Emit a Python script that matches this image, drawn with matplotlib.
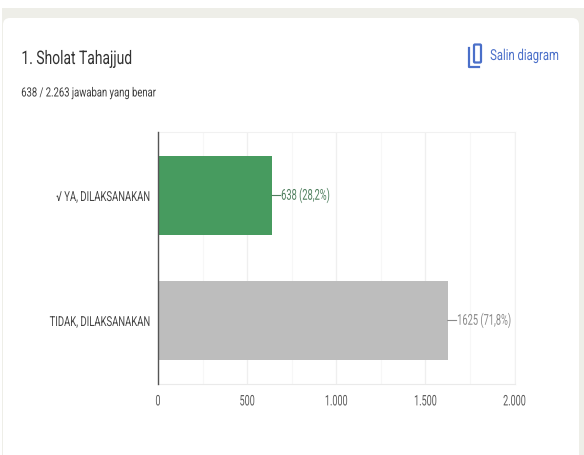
import matplotlib
matplotlib.use("Agg")
import matplotlib.pyplot as plt
from matplotlib.patches import FancyBboxPatch, Rectangle
from matplotlib.patheffects import AbstractPathEffect
from matplotlib.ticker import FuncFormatter, MultipleLocator
from matplotlib.transforms import Affine2D

categories = ["√ YA, DILAKSANAKAN", "TIDAK, DILAKSANAKAN"]
values = [638, 1625]
value_labels = ["638 (28,2%)", "1625 (71,8%)"]
bar_colors = ["#479B5F", "#BDBDBD"]
label_colors = ["#4F7F5E", "#8A8A8A"]
title = "1. Sholat Tahajjud"
subtitle = "638 / 2.263 jawaban yang benar"
copy_text = "Salin diagram"

plt.rcParams["font.family"] = ["Roboto", "DejaVu Sans"]


class Condense(AbstractPathEffect):
    """Draw real text narrower, holding its left, centre or right edge in place."""

    def __init__(self, sx, anchor="left"):
        super().__init__()
        self.sx = sx
        self.anchor = anchor

    def draw_path(self, renderer, gc, tpath, affine, rgbFace=None):
        ext = tpath.get_extents(affine)
        pivot = {"left": ext.x0, "center": (ext.x0 + ext.x1) / 2, "right": ext.x1}[self.anchor]
        squeeze = Affine2D().translate(-pivot, 0).scale(self.sx, 1).translate(pivot, 0)
        renderer.draw_path(gc, tpath, affine + squeeze, rgbFace)


def condense(text, sx, anchor="left"):
    text.set_path_effects([Condense(sx, anchor)])
    return text


W, H = 584, 455
fig = plt.figure(figsize=(W / 100, H / 100), dpi=100, facecolor="white")

bg = fig.add_axes([0, 0, 1, 1])
bg.set_xlim(0, W)
bg.set_ylim(H, 0)
bg.axis("off")
bg.add_patch(Rectangle((2, 8), W - 2, H - 8, fc="#EEEEE8", ec="none"))
bg.add_patch(FancyBboxPatch((9, 24), 564, 450, boxstyle="round,pad=6,rounding_size=7",
                            fc="white", ec="none"))
condense(bg.text(21, 59, title, fontsize=13.5, color="#333333", va="center", ha="left"), 0.74)
condense(bg.text(21, 93, subtitle, fontsize=9.2, color="#3C3C3C", va="center", ha="left"), 0.74)
condense(bg.text(490, 56, copy_text, fontsize=10.9, color="#4A6FC9", va="center", ha="left"), 0.745)
# copy icon
bg.add_patch(FancyBboxPatch((474, 44.5), 7, 18, boxstyle="round,pad=0,rounding_size=1",
                            fc="none", ec="#4A6FC9", lw=1.6))
bg.plot([469, 469, 479], [48, 67, 67], color="#4A6FC9", lw=1.6, solid_joinstyle="round")

ax = fig.add_axes([158 / W, 1 - 384 / H, (514.5 - 158) / W, 252 / H])
ax.set_facecolor("none")
ypos = list(range(len(categories)))
ax.barh(ypos, values, height=0.632, color=bar_colors, zorder=3)
ax.set_xlim(0, 2000)
ax.set_ylim(1.508, -0.508)
ax.set_yticks(ypos, categories)
ax.set_xticks([0, 500, 1000, 1500, 2000])
ax.xaxis.set_minor_locator(MultipleLocator(250))
ax.xaxis.set_major_formatter(FuncFormatter(lambda v, _: f"{int(v):,}".replace(",", ".")))
ax.grid(True, axis="x", which="major", color="#EFEFEF", lw=0.9, zorder=0)
ax.grid(True, axis="x", which="minor", color="#F7F7F7", lw=0.8, zorder=0)
ax.tick_params(axis="both", which="both", length=0)
ax.tick_params(axis="y", pad=6, labelsize=9.9, labelcolor="#444444")
ax.tick_params(axis="x", pad=7.5, labelsize=10.5, labelcolor="#5A5A5A")
for t in ax.get_yticklabels():
    condense(t, 0.69, "right")
for t in ax.get_xticklabels():
    condense(t, 0.62, "center")
for s in ["top", "right"]:
    ax.spines[s].set_color("#F1F1F1")
    ax.spines[s].set_linewidth(0.8)
ax.spines["bottom"].set_color("#EAEAEA")
ax.spines["bottom"].set_linewidth(0.8)
ax.spines["left"].set_color("#555555")
ax.spines["left"].set_linewidth(1.0)
ax.spines["left"].set_zorder(5)

for y, v, lab, c in zip(ypos, values, value_labels, label_colors):
    ax.annotate("", xy=(v, y), xytext=(6.5, 0), textcoords="offset points", zorder=6,
                arrowprops=dict(arrowstyle="-", color=c, lw=0.8, shrinkA=0, shrinkB=0))
    condense(ax.annotate(lab, xy=(v, y), xytext=(6.5, 0), textcoords="offset points",
                         va="center", ha="left", fontsize=10.8, color=c, zorder=6), 0.62)

fig.savefig("out.png", dpi=100)
